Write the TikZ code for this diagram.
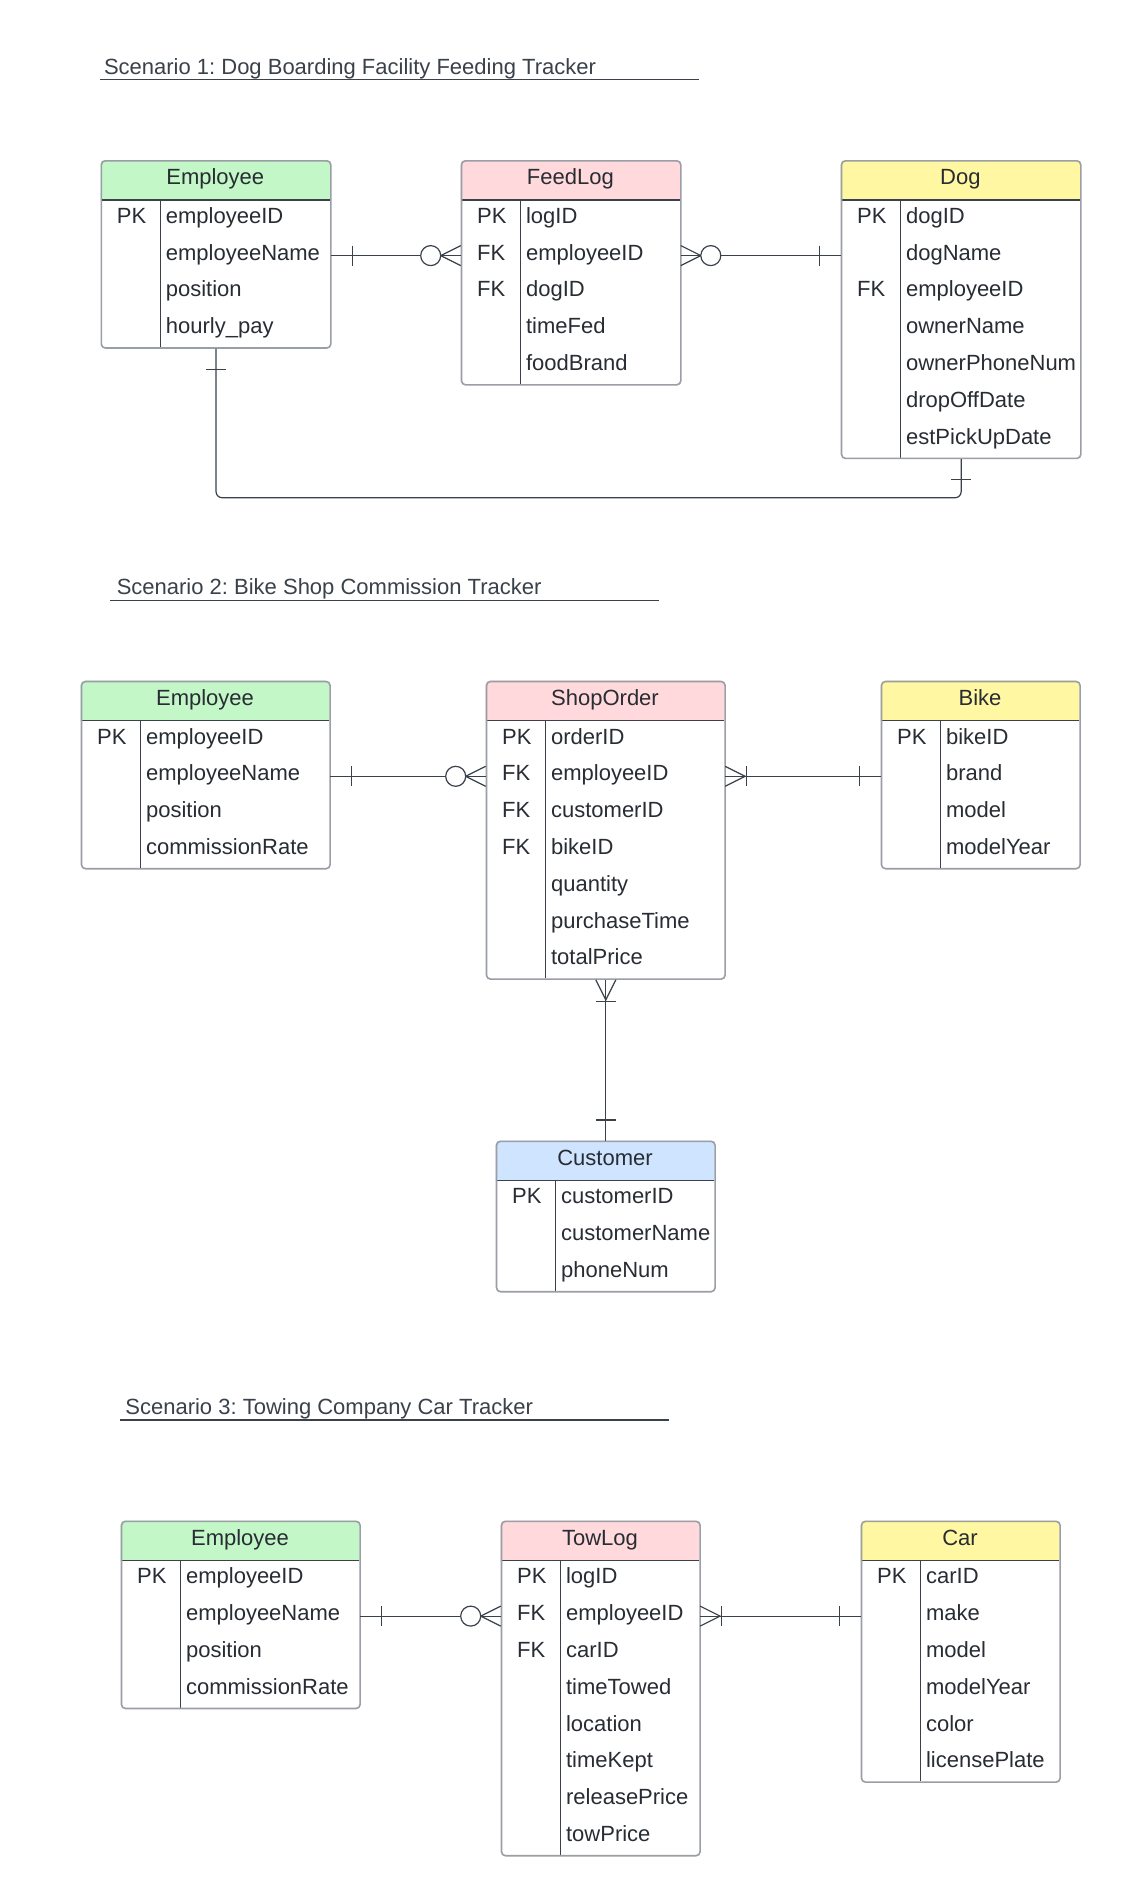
\documentclass[tikz,border=0pt]{standalone}
\usepackage{fontspec}
\setmainfont{Liberation Sans}
\usetikzlibrary{calc}
\frenchspacing
\definecolor{hgreen}{HTML}{C3F7C8}
\definecolor{hpink}{HTML}{FFD9DB}
\definecolor{hyellow}{HTML}{FFF7A1}
\definecolor{hblue}{HTML}{CFE4FF}
\definecolor{outl}{HTML}{9A9EA5}
\definecolor{ink}{HTML}{3A414A}
\definecolor{txtc}{HTML}{282C33}

\tikzset{
 txt/.style={font=\fontsize{11pt}{13pt}\selectfont, text=txtc, inner sep=0pt},
 conn/.style={draw=ink, line width=0.6pt},
 boxout/.style={draw=outl, line width=0.8pt, rounded corners=2pt, inner sep=0pt, anchor=north west},
 rowcell/.style={inner sep=0pt, anchor=north west, minimum height=18.4pt},
 sepline/.style={draw=ink, line width=0.7pt},
 divline/.style={draw=ink, line width=0.6pt},
}

% name L R T n color title rows
\newcommand\erbox[8]{%
 \pgfmathsetmacro\bw{(#3-#2)*0.5}%
 \pgfmathsetmacro\bh{(40+36.8*#5)*0.5}%
 \pgfmathsetmacro\bb{#4+40+36.8*#5}%
 \begin{scope}
 \clip ({#2},{#4}) rectangle ({#3},{#4+40});
 \fill[#6, rounded corners=2pt] ({#2},{#4}) rectangle ({#3},{\bb});
 \end{scope}
 \draw[sepline] ({#2},{#4+40}) -- ({#3},{#4+40});
 \draw[divline] ({#2+60},{#4+40}) -- ({#2+60},{\bb});
 \node[boxout, minimum width=\bw pt, minimum height=\bh pt] (#1) at ({#2},{#4}) {};
 \node[txt, anchor=base] (#1-title) at ({(#2+#3)/2},{#4+24.5}) {#7};
 \foreach \k/\f [count=\i] in {#8} {
   \node[rowcell, minimum width=\bw pt] (#1-\i) at ({#2},{#4+40+36.8*(\i-1)}) {};
   \node[txt, anchor=base west] (#1-k\i) at ({#2+16},{#4+63.3+36.8*(\i-1)}) {\k};
   \node[txt, anchor=base west] (#1-f\i) at ({#2+65},{#4+63.3+36.8*(\i-1)}) {\f};
 }
}
\newcommand\mkvbar[2]{\draw[conn] ($(#1)+({#2},-10)$) -- ($(#1)+({#2},10)$);}
\newcommand\mkhbar[2]{\draw[conn] ($(#1)+(-10,{#2})$) -- ($(#1)+(10,{#2})$);}
\newcommand\mkcrowx[2]{\draw[conn] ($(#1)+(0,-10)$) -- ($(#1)+({#2*20},0)$) -- ($(#1)+(0,10)$);}
\newcommand\mkcrowy[2]{\draw[conn] ($(#1)+(-10,0)$) -- ($(#1)+(0,{#2*20})$) -- ($(#1)+(10,0)$);}
\newcommand\mkring[2]{\draw[conn, fill=white] ($(#1)+({#2*30},0)$) circle[radius=5pt];}

\begin{document}
\begin{tikzpicture}[x=0.5pt,y=-0.5pt]
\fill[white] (0,0) rectangle (1120,1896);
\useasboundingbox (0,0) rectangle (1120,1896);

% ---------------- Scenario 1 ----------------
\node[txt, anchor=base west, text=ink] (title1) at (103.6,74) {Scenario 1: Dog Boarding Facility Feeding Tracker};
\draw[conn] (100,79.6) -- (698.6,79.6);

\erbox{e1}{100.5}{330}{160}{4}{hgreen}{Employee}{PK/employeeID,{}/employeeName,{}/position,{}/hourly\_pay}
\erbox{f1}{460.7}{680}{160}{5}{hpink}{FeedLog}{PK/logID,FK/employeeID,FK/dogID,{}/timeFed,{}/foodBrand}
\erbox{d1}{840.7}{1080}{160}{7}{hyellow}{Dog}{PK/dogID,{}/dogName,FK/employeeID,{}/ownerName,{}/ownerPhoneNum,{}/dropOffDate,{}/estPickUpDate}

\draw[conn] (e1-2.east) -- (f1-2.west);
\mkvbar{e1-2.east}{21.5}
\mkcrowx{f1-2.west}{-1}
\mkring{f1-2.west}{-1}

\draw[conn] (f1-2.east) -- (d1-2.west);
\mkcrowx{f1-2.east}{1}
\mkring{f1-2.east}{1}
\mkvbar{d1-2.west}{-21.5}

\draw[conn, rounded corners=3pt] (e1.south) -- ($(e1.south)+(0,148.9)$) -| (d1.south);
\mkhbar{e1.south}{20.5}
\mkhbar{d1.south}{20.5}

% ---------------- Scenario 2 ----------------
\node[txt, anchor=base west, text=ink] (title2) at (116.4,594.6) {Scenario 2: Bike Shop Commission Tracker};
\draw[conn] (110,600.1) -- (659,600.1);

\erbox{e2}{80.7}{329.3}{680.7}{4}{hgreen}{Employee}{PK/employeeID,{}/employeeName,{}/position,{}/commissionRate}
\erbox{s2}{485.7}{724.3}{680.7}{7}{hpink}{ShopOrder}{PK/orderID,FK/employeeID,FK/customerID,FK/bikeID,{}/quantity,{}/purchaseTime,{}/totalPrice}
\erbox{b2}{880.7}{1079.3}{680.7}{4}{hyellow}{Bike}{PK/bikeID,{}/brand,{}/model,{}/modelYear}
\erbox{c2}{495.7}{714.3}{1140.5}{3}{hblue}{Customer}{PK/customerID,{}/customerName,{}/phoneNum}

\draw[conn] (e2-2.east) -- (s2-2.west);
\mkvbar{e2-2.east}{21.5}
\mkcrowx{s2-2.west}{-1}
\mkring{s2-2.west}{-1}

\draw[conn] (s2-2.east) -- (b2-2.west);
\mkcrowx{s2-2.east}{1}
\mkvbar{s2-2.east}{21.5}
\mkvbar{b2-2.west}{-21.5}

\draw[conn] (s2.south) -- (c2.north);
\mkcrowy{s2.south}{1}
\mkhbar{s2.south}{21.5}
\mkhbar{c2.north}{-20.5}

% ---------------- Scenario 3 ----------------
\node[txt, anchor=base west, text=ink] (title3) at (125,1414.5) {Scenario 3: Towing Company Car Tracker};
\draw[conn] (120,1420) -- (669,1420);

\erbox{e3}{120.7}{359.3}{1520.5}{4}{hgreen}{Employee}{PK/employeeID,{}/employeeName,{}/position,{}/commissionRate}
\erbox{t3}{500.7}{699.3}{1520.5}{8}{hpink}{TowLog}{PK/logID,FK/employeeID,FK/carID,{}/timeTowed,{}/location,{}/timeKept,{}/releasePrice,{}/towPrice}
\erbox{c3}{860.7}{1059.3}{1520.5}{6}{hyellow}{Car}{PK/carID,{}/make,{}/model,{}/modelYear,{}/color,{}/licensePlate}

\draw[conn] (e3-2.east) -- (t3-2.west);
\mkvbar{e3-2.east}{21.5}
\mkcrowx{t3-2.west}{-1}
\mkring{t3-2.west}{-1}

\draw[conn] (t3-2.east) -- (c3-2.west);
\mkcrowx{t3-2.east}{1}
\mkvbar{t3-2.east}{21.5}
\mkvbar{c3-2.west}{-21.5}
\end{tikzpicture}
\end{document}
